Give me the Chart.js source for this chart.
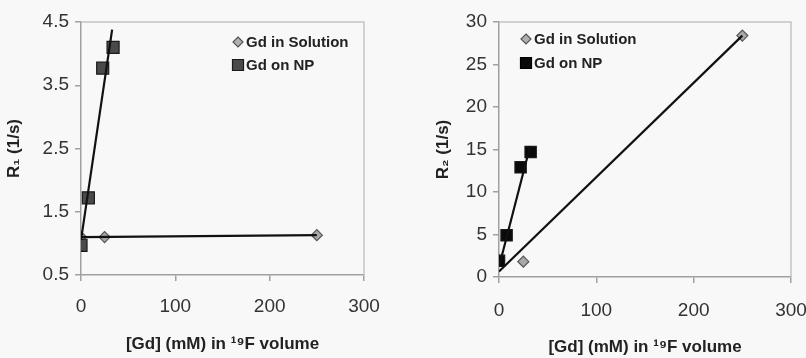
<!DOCTYPE html>
<html>
<head>
<meta charset="utf-8">
<script src="https://cdn.jsdelivr.net/npm/chart.js@4/dist/chart.umd.min.js"></script>
<style>
  html, body { margin: 0; padding: 0; background: #f8f8f8; }
  #wrap { position: relative; width: 806px; height: 358px; overflow: hidden; }
  canvas { position: absolute; top: 0; }
</style>
</head>
<body>
<div id="wrap">
  <canvas id="r1" width="403" height="358" style="left:0"></canvas>
  <canvas id="r2" width="403" height="358" style="left:403px"></canvas>
</div>
<script>
// ---- data ----
var xTicks = [0, 100, 200, 300];

// left panel: R1
var r1Ticks = [0.5, 1.5, 2.5, 3.5, 4.5];
var r1SolX = [0, 25, 250];
var r1SolY = [1.1, 1.1, 1.13];
var r1NpX = [0, 7.8, 23, 34];
var r1NpY = [0.97, 1.72, 3.77, 4.1];
var r1SolFitX = [0, 250];
var r1SolFitY = [1.1, 1.13];
var r1NpFitX = [0, 33];
var r1NpFitY = [1.05, 4.38];

// right panel: R2
var r2Ticks = [0, 5, 10, 15, 20, 25, 30];
var r2SolX = [0, 25, 250];
var r2SolY = [2.0, 1.8, 28.4];
var r2NpX = [0, 7.8, 22.2, 32.5];
var r2NpY = [1.9, 4.9, 12.9, 14.7];
var r2SolFitX = [0, 250];
var r2SolFitY = [0.65, 28.4];
var r2NpFitX = [0, 32];
var r2NpFitY = [1.2, 15.4];

var labels = ['Gd in Solution', 'Gd on NP'];

var FONT = "'Liberation Sans', Arial, sans-serif";

function pts(xs, ys) {
  return xs.map(function(x, i) { return {x: x, y: ys[i]}; });
}

// plot frame (top/right box lines)
var frame = {
  id: 'frame',
  beforeDatasetsDraw: function(chart) {
    var a = chart.chartArea, ctx = chart.ctx;
    ctx.save();
    ctx.strokeStyle = '#c4c4c4';
    ctx.lineWidth = 1.5;
    ctx.beginPath();
    ctx.moveTo(a.left, a.top);
    ctx.lineTo(a.right, a.top);
    ctx.lineTo(a.right, a.bottom);
    ctx.stroke();
    ctx.restore();
  }
};

// legend drawn inside the plot
var insideLegend = {
  id: 'insideLegend',
  afterDatasetsDraw: function(chart, args, o) {
    var ctx = chart.ctx;
    o.items.forEach(function(it, i) {
      var x = o.x, y = o.y + i * o.gap;
      ctx.save();
      ctx.fillStyle = it.fill;
      ctx.strokeStyle = it.stroke;
      ctx.lineWidth = 1.2;
      ctx.beginPath();
      if (it.shape === 'diamond') {
        ctx.moveTo(x, y - 5); ctx.lineTo(x + 5, y); ctx.lineTo(x, y + 5); ctx.lineTo(x - 5, y);
        ctx.closePath();
      } else {
        ctx.rect(x - 5.5, y - 5.5, 11, 11);
      }
      ctx.fill();
      ctx.stroke();
      ctx.fillStyle = '#222';
      ctx.font = 'bold 15px ' + FONT;
      ctx.textBaseline = 'middle';
      ctx.fillText(it.text, x + 8, y + 1);
      ctx.restore();
    });
  }
};

function makeChart(id, cfg) {
  return new Chart(document.getElementById(id), {
    type: 'scatter',
    data: {
      datasets: [
        { data: pts(cfg.npFitX, cfg.npFitY), showLine: true, borderColor: '#111', borderWidth: 2.2, pointRadius: 0, order: 0 },
        { data: pts(cfg.solFitX, cfg.solFitY), showLine: true, borderColor: '#111', borderWidth: 2.2, pointRadius: 0, order: 0 },
        { label: labels[1], data: pts(cfg.npX, cfg.npY), pointStyle: 'rect', pointRadius: cfg.npRadius,
          backgroundColor: cfg.npFill, borderColor: '#1a1a1a', borderWidth: 1.2, order: 1 },
        { label: labels[0], data: pts(cfg.solX, cfg.solY), pointStyle: 'rectRot', pointRadius: 5.5,
          backgroundColor: '#a8a8a8', borderColor: '#555', borderWidth: 1.2, order: 2 }
      ]
    },
    options: {
      responsive: false,
      animation: false,
      devicePixelRatio: 1,
      layout: { padding: cfg.padding },
      plugins: {
        legend: { display: false },
        tooltip: { enabled: false },
        insideLegend: cfg.legend
      },
      scales: {
        x: {
          type: 'linear', min: 0, max: 300,
          afterBuildTicks: function(s) { s.ticks = xTicks.map(function(v) { return {value: v}; }); },
          // fixed height; let the last tick label overhang instead of shrinking the plot
          afterFit: function(s) { s.height = cfg.xHeight; s.paddingRight = 0; },
          grid: { display: true, drawOnChartArea: false, drawTicks: true, tickLength: 6, color: '#a0a0a0', lineWidth: 1.5 },
          border: { display: true, color: '#a0a0a0', width: 1.5 },
          ticks: { color: '#333', padding: cfg.xTickPad, font: { family: FONT, size: 19 } },
          title: { display: true, text: '[Gd] (mM) in ¹⁹F volume', color: '#222',
                   padding: { top: 0, bottom: cfg.xTitlePad }, font: { family: FONT, size: 17, weight: 'bold' } }
        },
        y: {
          type: 'linear', min: cfg.yMin, max: cfg.yMax,
          afterBuildTicks: function(s) { s.ticks = cfg.yTicks.map(function(v) { return {value: v}; }); },
          afterFit: function(s) { s.width = cfg.yWidth; },
          grid: { display: true, drawOnChartArea: false, drawTicks: true, tickLength: 6, color: '#a0a0a0', lineWidth: 1.5 },
          border: { display: true, color: '#a0a0a0', width: 1.5 },
          ticks: { color: '#333', padding: 6, font: { family: FONT, size: 19 }, callback: cfg.fmt },
          title: { display: true, text: cfg.yTitle, color: '#222',
                   padding: { top: cfg.yTitlePad, bottom: 0 }, font: { family: FONT, size: 17, weight: 'bold' } }
        }
      }
    },
    plugins: [frame, insideLegend]
  });
}

makeChart('r1', {
  solX: r1SolX, solY: r1SolY, npX: r1NpX, npY: r1NpY,
  solFitX: r1SolFitX, solFitY: r1SolFitY, npFitX: r1NpFitX, npFitY: r1NpFitY,
  npFill: '#4a4a4a', npRadius: 8.5, yMin: 0.5, yMax: 4.5, yTicks: r1Ticks, yTitle: 'R₁ (1/s)',
  fmt: function(v) { return v.toFixed(1); },
  padding: { left: 0, top: 22, right: 39, bottom: 0 },
  yWidth: 81, xHeight: 83, xTickPad: 14, xTitlePad: 3, yTitlePad: 4,
  legend: { x: 238, y: 42, gap: 23, items: [
    { shape: 'diamond', fill: '#b0b0b0', stroke: '#555', text: labels[0] },
    { shape: 'square', fill: '#4a4a4a', stroke: '#1a1a1a', text: labels[1] } ] }
});

makeChart('r2', {
  solX: r2SolX, solY: r2SolY, npX: r2NpX, npY: r2NpY,
  solFitX: r2SolFitX, solFitY: r2SolFitY, npFitX: r2NpFitX, npFitY: r2NpFitY,
  npFill: '#0a0a0a', npRadius: 8, yMin: 0, yMax: 30, yTicks: r2Ticks, yTitle: 'R₂ (1/s)',
  fmt: function(v) { return String(v); },
  padding: { left: 0, top: 22, right: 15, bottom: 0 },
  yWidth: 96, xHeight: 81, xTickPad: 16, xTitlePad: 0, yTitlePad: 30,
  legend: { x: 123, y: 39, gap: 24, items: [
    { shape: 'diamond', fill: '#b0b0b0', stroke: '#555', text: labels[0] },
    { shape: 'square', fill: '#0a0a0a', stroke: '#000', text: labels[1] } ] }
});
</script>
</body>
</html>
